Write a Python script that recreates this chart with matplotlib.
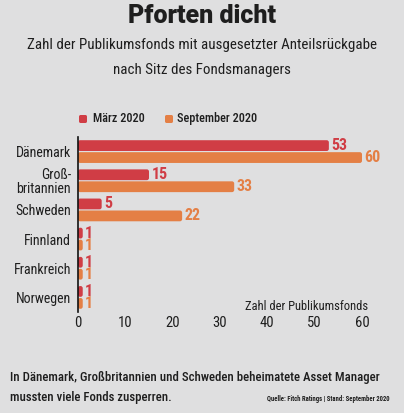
import matplotlib
matplotlib.use("Agg")
import matplotlib.pyplot as plt
from matplotlib.patches import FancyBboxPatch

categories = ["Dänemark", "Groß-\nbritannien", "Schweden", "Finnland", "Frankreich", "Norwegen"]
maerz = [53, 15, 5, 1, 1, 1]
september = [60, 33, 22, 1, 1, 1]
xticks = [0, 10, 20, 30, 40, 50, 60]

BG = "#dfdfe0"
RED = "#d03d45"
ORANGE = "#e47f45"
TXT = "#1e1e1e"

plt.rcParams["font.family"] = ["Roboto Condensed", "DejaVu Sans"]

fig = plt.figure(figsize=(4.04, 4.13), dpi=100, facecolor=BG)
ax_left, ax_right, ax_top, ax_bot = 78, 362, 137, 312
ax = fig.add_axes([ax_left/404, 1-ax_bot/413, (ax_right-ax_left)/404, (ax_bot-ax_top)/413])
ax.set_facecolor(BG)
ax.set_xlim(0, 60)
ax.set_ylim(5.5, -0.5)

ypos = list(range(len(categories)))
h = 0.37
off = 0.205
xu_per_px = 60 / (ax_right - ax_left)
yu_per_px = 6 / (ax_bot - ax_top)


def rounded(bars, color):
    for b in bars:
        b.set_visible(False)
        p = FancyBboxPatch((b.get_x(), b.get_y()), b.get_width(), b.get_height(),
                           boxstyle="round,pad=0,rounding_size=%f" % (2.2 * xu_per_px),
                           mutation_aspect=yu_per_px / xu_per_px,
                           facecolor=color, edgecolor="none")
        ax.add_patch(p)


rounded(ax.barh([y - off for y in ypos], maerz, height=h), RED)
rounded(ax.barh([y + off for y in ypos], september, height=h), ORANGE)
for y, v in zip(ypos, maerz):
    ax.text(v + 0.5, y - off, str(v), color=RED, fontsize=11.5, fontweight="bold", va="center", ha="left")
for y, v in zip(ypos, september):
    ax.text(v + 0.5, y + off, str(v), color=ORANGE, fontsize=11.5, fontweight="bold", va="center", ha="left")

ax.set_yticks(ypos)
ax.set_yticklabels(categories, fontsize=10, color=TXT, linespacing=1.0)
ax.set_xticks(xticks)
ax.set_xticklabels([str(t) for t in xticks], fontsize=10.5, color=TXT)
ax.tick_params(length=0)
ax.tick_params(axis="y", pad=5)
ax.tick_params(axis="x", pad=3)
for s in ["top", "right", "bottom"]:
    ax.spines[s].set_visible(False)
ax.spines["left"].set_color("#111111")
ax.spines["left"].set_linewidth(1.2)
ax.spines["left"].set_zorder(5)
ax.text(61.2, 5.32, "Zahl der Publikumsfonds", ha="right", va="center", fontsize=9, color=TXT)

fig.text(0.5, 1-16/413, "Pforten dicht", ha="center", va="center", fontsize=18, fontweight=900, color=TXT, family="Roboto")
fig.text(0.5, 1-45/413, "Zahl der Publikumsfonds mit ausgesetzter Anteilsrückgabe", ha="center", va="center", fontsize=10.8, color=TXT)
fig.text(0.5, 1-70/413, "nach Sitz des Fondsmanagers", ha="center", va="center", fontsize=10.8, color=TXT)

# legend
fig.patches.append(FancyBboxPatch((79/404, 1-123/413), 8/404, 8/413, boxstyle="round,pad=0,rounding_size=0.004",
                                  transform=fig.transFigure, facecolor=RED, edgecolor="none"))
fig.text(93/404, 1-118.5/413, "März 2020", ha="left", va="center", fontsize=8.8, fontweight="medium", color=TXT)
fig.patches.append(FancyBboxPatch((165/404, 1-123/413), 8/404, 8/413, boxstyle="round,pad=0,rounding_size=0.004",
                                  transform=fig.transFigure, facecolor=ORANGE, edgecolor="none"))
fig.text(177/404, 1-118.5/413, "September 2020", ha="left", va="center", fontsize=8.8, fontweight="medium", color=TXT)

fig.text(10/404, 1-378/413, "In Dänemark, Großbritannien und Schweden beheimatete Asset Manager", ha="left", va="center", fontsize=9.2, fontweight="medium", color=TXT)
fig.text(10/404, 1-398/413, "mussten viele Fonds zusperren.", ha="left", va="center", fontsize=9.2, fontweight="medium", color=TXT)
fig.text(390/404, 1-399/413, "Quelle: Fitch Ratings | Stand: September 2020", ha="right", va="center", fontsize=4.8, fontweight="bold", color=TXT)

fig.savefig("out.png", dpi=100, facecolor=BG)
